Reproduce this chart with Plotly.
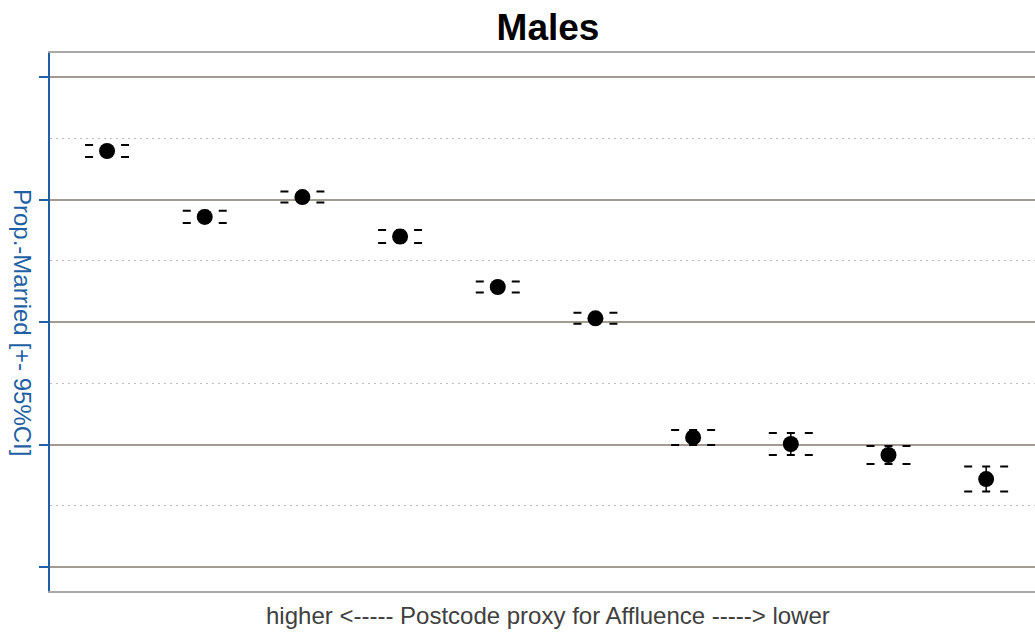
import plotly.graph_objects as go

# Data
groups = [1, 2, 3, 4, 5, 6, 7, 8, 9, 10]
prop_married = [0.6198, 0.5929, 0.6010, 0.5849, 0.5643, 0.5515, 0.5029, 0.5002, 0.4957, 0.4859]
ci_half = [0.00245, 0.00250, 0.00225, 0.00265, 0.00225, 0.00225, 0.00306, 0.00449, 0.00367, 0.00510]
grid_ticks = [0.45, 0.50, 0.55, 0.60, 0.65]

title_text = "Males"
x_title = "higher <----- Postcode proxy for Affluence -----> lower"
y_title = "Prop.-Married [+- 95%CI]"

lower = [p - h for p, h in zip(prop_married, ci_half)]
upper = [p + h for p, h in zip(prop_married, ci_half)]

CAP = 0.225  # half-width of caps in x data units
BLUE = "#1f5fa3"

fig = go.Figure()

# vertical CI stubs
for x, lo, hi in zip(groups, lower, upper):
    fig.add_trace(go.Scatter(x=[x, x], y=[lo, hi], mode="lines",
                             line=dict(color="black", width=1.5),
                             hoverinfo="skip", showlegend=False))
# dashed caps
for x, lo, hi in zip(groups, lower, upper):
    for yv in (lo, hi):
        fig.add_trace(go.Scatter(x=[x - CAP, x + CAP], y=[yv, yv], mode="lines",
                                 line=dict(color="black", width=2, dash="8px,10px"),
                                 hoverinfo="skip", showlegend=False))
# points
fig.add_trace(go.Scatter(x=groups, y=prop_married, mode="markers",
                         marker=dict(color="black", size=16),
                         showlegend=False))

fig.update_layout(
    width=1035, height=632,
    margin=dict(l=50, r=0, t=53, b=41),
    paper_bgcolor="white", plot_bgcolor="white",
    font=dict(family="Liberation Sans, Arial, sans-serif"),
    title=dict(text="<b>" + title_text + "</b>", x=(548) / 1035, xanchor="center",
               y=1 - 27 / 632, yanchor="middle", yref="container",
               font=dict(size=37, color="black")),
    xaxis=dict(range=[0.416, 10.5], showgrid=False, zeroline=False,
               showticklabels=False, ticks="",
               showline=True, linecolor="#a8a8a8", linewidth=1.5, mirror=True),
    yaxis=dict(range=[0.4402, 0.6598], tickvals=grid_ticks,
               showticklabels=False, ticks="outside", ticklen=9,
               tickcolor=BLUE, tickwidth=2,
               showline=True, linecolor=BLUE, linewidth=2,
               showgrid=True, gridcolor="#a39a90", gridwidth=2, zeroline=False,
               minor=dict(tick0=0.425, dtick=0.05, showgrid=True, gridcolor="#bdbdbd",
                          gridwidth=1, griddash="2px,4px", ticks="")),
    annotations=[
        dict(text=x_title, xref="paper", yref="paper",
             x=(548 - 50) / 985, y=-(615 - 591) / 538, xanchor="center", yanchor="middle",
             showarrow=False, font=dict(size=24, color="#404040")),
        dict(text=y_title, xref="paper", yref="paper", textangle=90,
             x=(23 - 50) / 985, y=0.5, xanchor="center", yanchor="middle",
             showarrow=False, font=dict(size=24, color=BLUE)),
    ],
)

fig.write_html("out.html")
